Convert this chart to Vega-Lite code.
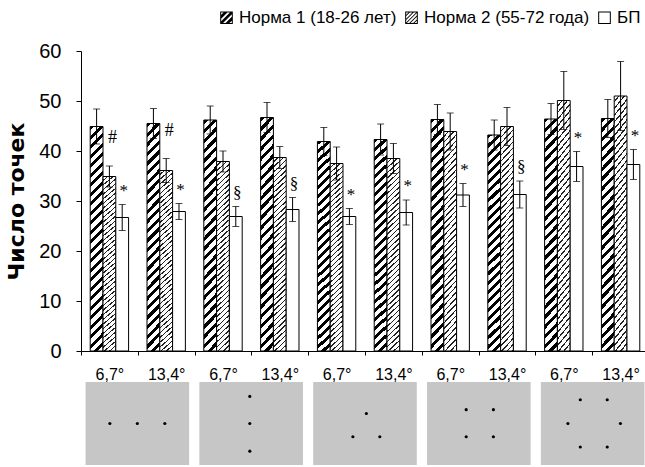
{
  "$schema": "https://vega.github.io/schema/vega-lite/v6.json",
  "background": "white",
  "padding": {"left": 5, "top": 9, "right": 0, "bottom": 0},
  "spacing": 0,
  "config": {
    "view": {"stroke": null},
    "font": "Liberation Sans",
    "axis": {"domainColor": "#000", "tickColor": "#000", "labelColor": "#000", "titleColor": "#000", "grid": false, "domainWidth": 1, "tickWidth": 1}
  },
  "vconcat": [
    {
      "width": 568,
      "height": 300,
      "data": {"values": [
        {"group": "p1|6,7°", "series": "Норма 1 (18-26 лет)", "mean": 44.9, "lo": 41.4, "hi": 48.4, "sig": ""},
        {"group": "p1|6,7°", "series": "Норма 2 (55-72 года)", "mean": 34.9, "lo": 32.8, "hi": 37.0, "sig": "#"},
        {"group": "p1|6,7°", "series": "БП", "mean": 26.7, "lo": 24.1, "hi": 29.3, "sig": "*"},
        {"group": "p1|13,4°", "series": "Норма 1 (18-26 лет)", "mean": 45.5, "lo": 42.5, "hi": 48.5, "sig": ""},
        {"group": "p1|13,4°", "series": "Норма 2 (55-72 года)", "mean": 36.1, "lo": 33.7, "hi": 38.5, "sig": "#"},
        {"group": "p1|13,4°", "series": "БП", "mean": 27.9, "lo": 26.3, "hi": 29.5, "sig": "*"},
        {"group": "p2|6,7°", "series": "Норма 1 (18-26 лет)", "mean": 46.2, "lo": 43.4, "hi": 49.0, "sig": ""},
        {"group": "p2|6,7°", "series": "Норма 2 (55-72 года)", "mean": 37.9, "lo": 35.8, "hi": 40.0, "sig": ""},
        {"group": "p2|6,7°", "series": "БП", "mean": 26.9, "lo": 24.9, "hi": 28.9, "sig": "§"},
        {"group": "p2|13,4°", "series": "Норма 1 (18-26 лет)", "mean": 46.7, "lo": 43.7, "hi": 49.7, "sig": ""},
        {"group": "p2|13,4°", "series": "Норма 2 (55-72 года)", "mean": 38.7, "lo": 36.5, "hi": 40.9, "sig": ""},
        {"group": "p2|13,4°", "series": "БП", "mean": 28.3, "lo": 25.9, "hi": 30.7, "sig": "§"},
        {"group": "p3|6,7°", "series": "Норма 1 (18-26 лет)", "mean": 41.9, "lo": 39.1, "hi": 44.7, "sig": ""},
        {"group": "p3|6,7°", "series": "Норма 2 (55-72 года)", "mean": 37.5, "lo": 34.2, "hi": 40.8, "sig": ""},
        {"group": "p3|6,7°", "series": "БП", "mean": 26.9, "lo": 25.3, "hi": 28.5, "sig": "*"},
        {"group": "p3|13,4°", "series": "Норма 1 (18-26 лет)", "mean": 42.3, "lo": 39.2, "hi": 45.4, "sig": ""},
        {"group": "p3|13,4°", "series": "Норма 2 (55-72 года)", "mean": 38.5, "lo": 35.5, "hi": 41.5, "sig": ""},
        {"group": "p3|13,4°", "series": "БП", "mean": 27.7, "lo": 25.2, "hi": 30.2, "sig": "*"},
        {"group": "p4|6,7°", "series": "Норма 1 (18-26 лет)", "mean": 46.3, "lo": 43.3, "hi": 49.3, "sig": ""},
        {"group": "p4|6,7°", "series": "Норма 2 (55-72 года)", "mean": 43.9, "lo": 40.2, "hi": 47.6, "sig": ""},
        {"group": "p4|6,7°", "series": "БП", "mean": 31.2, "lo": 28.9, "hi": 33.5, "sig": "*"},
        {"group": "p4|13,4°", "series": "Норма 1 (18-26 лет)", "mean": 43.2, "lo": 40.2, "hi": 46.2, "sig": ""},
        {"group": "p4|13,4°", "series": "Норма 2 (55-72 года)", "mean": 44.9, "lo": 41.1, "hi": 48.7, "sig": ""},
        {"group": "p4|13,4°", "series": "БП", "mean": 31.3, "lo": 28.6, "hi": 34.0, "sig": "§"},
        {"group": "p5|6,7°", "series": "Норма 1 (18-26 лет)", "mean": 46.4, "lo": 43.3, "hi": 49.5, "sig": ""},
        {"group": "p5|6,7°", "series": "Норма 2 (55-72 года)", "mean": 50.1, "lo": 44.3, "hi": 55.9, "sig": ""},
        {"group": "p5|6,7°", "series": "БП", "mean": 36.9, "lo": 33.9, "hi": 39.9, "sig": "*"},
        {"group": "p5|13,4°", "series": "Норма 1 (18-26 лет)", "mean": 46.5, "lo": 42.7, "hi": 50.3, "sig": ""},
        {"group": "p5|13,4°", "series": "Норма 2 (55-72 года)", "mean": 51.0, "lo": 44.1, "hi": 57.9, "sig": ""},
        {"group": "p5|13,4°", "series": "БП", "mean": 37.3, "lo": 34.3, "hi": 40.3, "sig": "*"}
      ]},
      "encoding": {
        "x": {"field": "group", "type": "nominal", "sort": null,
          "scale": {"paddingInner": 0, "paddingOuter": 0},
          "axis": {"title": null, "labelAngle": 0, "tickBand": "extent", "tickSize": 4, "labelFontSize": 16, "labelPadding": 11, "labelExpr": "split(datum.label, '|')[1]"}},
        "xOffset": {"field": "series", "type": "nominal", "sort": null, "scale": {"paddingInner": 0, "paddingOuter": 0.72}}
      },
      "layer": [
        {
          "mark": {"type": "bar", "stroke": "#000", "strokeWidth": 1},
          "encoding": {
            "y": {"field": "mean", "type": "quantitative", "scale": {"domain": [0, 60]},
              "axis": {"title": "Число точек", "values": [0, 10, 20, 30, 40, 50, 60], "tickSize": 5, "labelFontSize": 20, "labelPadding": 15, "titleFont": "DejaVu Sans", "titleFontSize": 22, "titleFontWeight": "bold", "titlePadding": 10}},
            "fill": {
              "condition": [
                {"test": "datum.series === 'Норма 1 (18-26 лет)'", "value":
                  {"gradient": "linear", "x1": 0, "y1": 0, "x2": 0.0608, "y2": 1.054, "stops": [
                    {"offset": 0, "color": "#000"}, {"offset": 0.018, "color": "#000"}, {"offset": 0.018, "color": "#fff"}, {"offset": 0.04, "color": "#fff"},
                    {"offset": 0.04, "color": "#000"}, {"offset": 0.058, "color": "#000"}, {"offset": 0.058, "color": "#fff"}, {"offset": 0.08, "color": "#fff"},
                    {"offset": 0.08, "color": "#000"}, {"offset": 0.098, "color": "#000"}, {"offset": 0.098, "color": "#fff"}, {"offset": 0.12, "color": "#fff"},
                    {"offset": 0.12, "color": "#000"}, {"offset": 0.138, "color": "#000"}, {"offset": 0.138, "color": "#fff"}, {"offset": 0.16, "color": "#fff"},
                    {"offset": 0.16, "color": "#000"}, {"offset": 0.178, "color": "#000"}, {"offset": 0.178, "color": "#fff"}, {"offset": 0.2, "color": "#fff"},
                    {"offset": 0.2, "color": "#000"}, {"offset": 0.218, "color": "#000"}, {"offset": 0.218, "color": "#fff"}, {"offset": 0.24, "color": "#fff"},
                    {"offset": 0.24, "color": "#000"}, {"offset": 0.258, "color": "#000"}, {"offset": 0.258, "color": "#fff"}, {"offset": 0.28, "color": "#fff"},
                    {"offset": 0.28, "color": "#000"}, {"offset": 0.298, "color": "#000"}, {"offset": 0.298, "color": "#fff"}, {"offset": 0.32, "color": "#fff"},
                    {"offset": 0.32, "color": "#000"}, {"offset": 0.338, "color": "#000"}, {"offset": 0.338, "color": "#fff"}, {"offset": 0.36, "color": "#fff"},
                    {"offset": 0.36, "color": "#000"}, {"offset": 0.378, "color": "#000"}, {"offset": 0.378, "color": "#fff"}, {"offset": 0.4, "color": "#fff"},
                    {"offset": 0.4, "color": "#000"}, {"offset": 0.418, "color": "#000"}, {"offset": 0.418, "color": "#fff"}, {"offset": 0.44, "color": "#fff"},
                    {"offset": 0.44, "color": "#000"}, {"offset": 0.458, "color": "#000"}, {"offset": 0.458, "color": "#fff"}, {"offset": 0.48, "color": "#fff"},
                    {"offset": 0.48, "color": "#000"}, {"offset": 0.498, "color": "#000"}, {"offset": 0.498, "color": "#fff"}, {"offset": 0.52, "color": "#fff"},
                    {"offset": 0.52, "color": "#000"}, {"offset": 0.538, "color": "#000"}, {"offset": 0.538, "color": "#fff"}, {"offset": 0.56, "color": "#fff"},
                    {"offset": 0.56, "color": "#000"}, {"offset": 0.578, "color": "#000"}, {"offset": 0.578, "color": "#fff"}, {"offset": 0.6, "color": "#fff"},
                    {"offset": 0.6, "color": "#000"}, {"offset": 0.618, "color": "#000"}, {"offset": 0.618, "color": "#fff"}, {"offset": 0.64, "color": "#fff"},
                    {"offset": 0.64, "color": "#000"}, {"offset": 0.658, "color": "#000"}, {"offset": 0.658, "color": "#fff"}, {"offset": 0.68, "color": "#fff"},
                    {"offset": 0.68, "color": "#000"}, {"offset": 0.698, "color": "#000"}, {"offset": 0.698, "color": "#fff"}, {"offset": 0.72, "color": "#fff"},
                    {"offset": 0.72, "color": "#000"}, {"offset": 0.738, "color": "#000"}, {"offset": 0.738, "color": "#fff"}, {"offset": 0.76, "color": "#fff"},
                    {"offset": 0.76, "color": "#000"}, {"offset": 0.778, "color": "#000"}, {"offset": 0.778, "color": "#fff"}, {"offset": 0.8, "color": "#fff"},
                    {"offset": 0.8, "color": "#000"}, {"offset": 0.818, "color": "#000"}, {"offset": 0.818, "color": "#fff"}, {"offset": 0.84, "color": "#fff"},
                    {"offset": 0.84, "color": "#000"}, {"offset": 0.858, "color": "#000"}, {"offset": 0.858, "color": "#fff"}, {"offset": 0.88, "color": "#fff"},
                    {"offset": 0.88, "color": "#000"}, {"offset": 0.898, "color": "#000"}, {"offset": 0.898, "color": "#fff"}, {"offset": 0.92, "color": "#fff"},
                    {"offset": 0.92, "color": "#000"}, {"offset": 0.938, "color": "#000"}, {"offset": 0.938, "color": "#fff"}, {"offset": 0.96, "color": "#fff"},
                    {"offset": 0.96, "color": "#000"}, {"offset": 0.978, "color": "#000"}, {"offset": 0.978, "color": "#fff"}, {"offset": 1, "color": "#fff"}
                  ]}},
                {"test": "datum.series === 'Норма 2 (55-72 года)'", "value":
                  {"gradient": "linear", "x1": 0, "y1": 0, "x2": 0.0661, "y2": 1.0584, "stops": [
                    {"offset": 0, "color": "#fff"}, {"offset": 0.018, "color": "#fff"}, {"offset": 0.018, "color": "#222"}, {"offset": 0.025, "color": "#222"},
                    {"offset": 0.025, "color": "#fff"}, {"offset": 0.043, "color": "#fff"}, {"offset": 0.043, "color": "#222"}, {"offset": 0.05, "color": "#222"},
                    {"offset": 0.05, "color": "#fff"}, {"offset": 0.068, "color": "#fff"}, {"offset": 0.068, "color": "#222"}, {"offset": 0.075, "color": "#222"},
                    {"offset": 0.075, "color": "#fff"}, {"offset": 0.093, "color": "#fff"}, {"offset": 0.093, "color": "#222"}, {"offset": 0.1, "color": "#222"},
                    {"offset": 0.1, "color": "#fff"}, {"offset": 0.118, "color": "#fff"}, {"offset": 0.118, "color": "#222"}, {"offset": 0.125, "color": "#222"},
                    {"offset": 0.125, "color": "#fff"}, {"offset": 0.143, "color": "#fff"}, {"offset": 0.143, "color": "#222"}, {"offset": 0.15, "color": "#222"},
                    {"offset": 0.15, "color": "#fff"}, {"offset": 0.168, "color": "#fff"}, {"offset": 0.168, "color": "#222"}, {"offset": 0.175, "color": "#222"},
                    {"offset": 0.175, "color": "#fff"}, {"offset": 0.193, "color": "#fff"}, {"offset": 0.193, "color": "#222"}, {"offset": 0.2, "color": "#222"},
                    {"offset": 0.2, "color": "#fff"}, {"offset": 0.218, "color": "#fff"}, {"offset": 0.218, "color": "#222"}, {"offset": 0.225, "color": "#222"},
                    {"offset": 0.225, "color": "#fff"}, {"offset": 0.243, "color": "#fff"}, {"offset": 0.243, "color": "#222"}, {"offset": 0.25, "color": "#222"},
                    {"offset": 0.25, "color": "#fff"}, {"offset": 0.268, "color": "#fff"}, {"offset": 0.268, "color": "#222"}, {"offset": 0.275, "color": "#222"},
                    {"offset": 0.275, "color": "#fff"}, {"offset": 0.293, "color": "#fff"}, {"offset": 0.293, "color": "#222"}, {"offset": 0.3, "color": "#222"},
                    {"offset": 0.3, "color": "#fff"}, {"offset": 0.318, "color": "#fff"}, {"offset": 0.318, "color": "#222"}, {"offset": 0.325, "color": "#222"},
                    {"offset": 0.325, "color": "#fff"}, {"offset": 0.343, "color": "#fff"}, {"offset": 0.343, "color": "#222"}, {"offset": 0.35, "color": "#222"},
                    {"offset": 0.35, "color": "#fff"}, {"offset": 0.368, "color": "#fff"}, {"offset": 0.368, "color": "#222"}, {"offset": 0.375, "color": "#222"},
                    {"offset": 0.375, "color": "#fff"}, {"offset": 0.393, "color": "#fff"}, {"offset": 0.393, "color": "#222"}, {"offset": 0.4, "color": "#222"},
                    {"offset": 0.4, "color": "#fff"}, {"offset": 0.418, "color": "#fff"}, {"offset": 0.418, "color": "#222"}, {"offset": 0.425, "color": "#222"},
                    {"offset": 0.425, "color": "#fff"}, {"offset": 0.443, "color": "#fff"}, {"offset": 0.443, "color": "#222"}, {"offset": 0.45, "color": "#222"},
                    {"offset": 0.45, "color": "#fff"}, {"offset": 0.468, "color": "#fff"}, {"offset": 0.468, "color": "#222"}, {"offset": 0.475, "color": "#222"},
                    {"offset": 0.475, "color": "#fff"}, {"offset": 0.493, "color": "#fff"}, {"offset": 0.493, "color": "#222"}, {"offset": 0.5, "color": "#222"},
                    {"offset": 0.5, "color": "#fff"}, {"offset": 0.518, "color": "#fff"}, {"offset": 0.518, "color": "#222"}, {"offset": 0.525, "color": "#222"},
                    {"offset": 0.525, "color": "#fff"}, {"offset": 0.543, "color": "#fff"}, {"offset": 0.543, "color": "#222"}, {"offset": 0.55, "color": "#222"},
                    {"offset": 0.55, "color": "#fff"}, {"offset": 0.568, "color": "#fff"}, {"offset": 0.568, "color": "#222"}, {"offset": 0.575, "color": "#222"},
                    {"offset": 0.575, "color": "#fff"}, {"offset": 0.593, "color": "#fff"}, {"offset": 0.593, "color": "#222"}, {"offset": 0.6, "color": "#222"},
                    {"offset": 0.6, "color": "#fff"}, {"offset": 0.618, "color": "#fff"}, {"offset": 0.618, "color": "#222"}, {"offset": 0.625, "color": "#222"},
                    {"offset": 0.625, "color": "#fff"}, {"offset": 0.643, "color": "#fff"}, {"offset": 0.643, "color": "#222"}, {"offset": 0.65, "color": "#222"},
                    {"offset": 0.65, "color": "#fff"}, {"offset": 0.668, "color": "#fff"}, {"offset": 0.668, "color": "#222"}, {"offset": 0.675, "color": "#222"},
                    {"offset": 0.675, "color": "#fff"}, {"offset": 0.693, "color": "#fff"}, {"offset": 0.693, "color": "#222"}, {"offset": 0.7, "color": "#222"},
                    {"offset": 0.7, "color": "#fff"}, {"offset": 0.718, "color": "#fff"}, {"offset": 0.718, "color": "#222"}, {"offset": 0.725, "color": "#222"},
                    {"offset": 0.725, "color": "#fff"}, {"offset": 0.743, "color": "#fff"}, {"offset": 0.743, "color": "#222"}, {"offset": 0.75, "color": "#222"},
                    {"offset": 0.75, "color": "#fff"}, {"offset": 0.768, "color": "#fff"}, {"offset": 0.768, "color": "#222"}, {"offset": 0.775, "color": "#222"},
                    {"offset": 0.775, "color": "#fff"}, {"offset": 0.793, "color": "#fff"}, {"offset": 0.793, "color": "#222"}, {"offset": 0.8, "color": "#222"},
                    {"offset": 0.8, "color": "#fff"}, {"offset": 0.818, "color": "#fff"}, {"offset": 0.818, "color": "#222"}, {"offset": 0.825, "color": "#222"},
                    {"offset": 0.825, "color": "#fff"}, {"offset": 0.843, "color": "#fff"}, {"offset": 0.843, "color": "#222"}, {"offset": 0.85, "color": "#222"},
                    {"offset": 0.85, "color": "#fff"}, {"offset": 0.868, "color": "#fff"}, {"offset": 0.868, "color": "#222"}, {"offset": 0.875, "color": "#222"},
                    {"offset": 0.875, "color": "#fff"}, {"offset": 0.893, "color": "#fff"}, {"offset": 0.893, "color": "#222"}, {"offset": 0.9, "color": "#222"},
                    {"offset": 0.9, "color": "#fff"}, {"offset": 0.918, "color": "#fff"}, {"offset": 0.918, "color": "#222"}, {"offset": 0.925, "color": "#222"},
                    {"offset": 0.925, "color": "#fff"}, {"offset": 0.943, "color": "#fff"}, {"offset": 0.943, "color": "#222"}, {"offset": 0.95, "color": "#222"},
                    {"offset": 0.95, "color": "#fff"}, {"offset": 0.968, "color": "#fff"}, {"offset": 0.968, "color": "#222"}, {"offset": 0.975, "color": "#222"},
                    {"offset": 0.975, "color": "#fff"}, {"offset": 0.993, "color": "#fff"}, {"offset": 0.993, "color": "#222"}, {"offset": 1, "color": "#222"}
                  ]}}
              ],
              "value": "#ffffff"
            }
          }
        },
        {
          "transform": [{"filter": "false"}],
          "mark": {"type": "point", "filled": true, "color": "#000", "opacity": 1},
          "encoding": {
            "y": {"field": "mean", "type": "quantitative", "axis": {"title": "Число точек"}},
            "shape": {"field": "series", "type": "nominal", "sort": null,
              "scale": {"domain": ["Норма 1 (18-26 лет)", "Норма 2 (55-72 года)", "БП"],
                "range": [
                  "M-1,-1H1V1H-1Z M-0.84,-0.84V0.84H0.84V-0.84Z M-0.46,-0.84L0.14,-0.84L-0.84,0.14L-0.84,-0.46Z M0.54,-0.84L0.84,-0.84L0.84,-0.54L-0.54,0.84L-0.84,0.84L-0.84,0.54Z M0.84,-0.14L0.84,0.46L0.46,0.84L-0.14,0.84Z",
                  "M-1,-1H1V1H-1Z M-0.84,-0.84V0.84H0.84V-0.84Z M-0.46,-0.84L-0.26,-0.84L-0.84,-0.26L-0.84,-0.46Z M0.14,-0.84L0.34,-0.84L-0.84,0.34L-0.84,0.14Z M0.74,-0.84L0.84,-0.84L0.84,-0.74L-0.74,0.84L-0.84,0.84L-0.84,0.74Z M0.84,-0.34L0.84,-0.14L-0.14,0.84L-0.34,0.84Z M0.84,0.26L0.84,0.46L0.46,0.84L0.26,0.84Z",
                  "M-1,-1H1V1H-1Z M-0.84,-0.84V0.84H0.84V-0.84Z"
                ]},
              "legend": {
                "title": null, "orient": "none", "legendX": 137, "legendY": -42, "direction": "horizontal", "columns": 3,
                "symbolSize": 160, "symbolStrokeWidth": 0, "symbolFillColor": "#000", "symbolOpacity": 1,
                "labelFontSize": 17, "labelOffset": 4, "columnPadding": 6, "labelColor": "#000", "labelLimit": 400
              }}
          }
        },
        {
          "mark": {"type": "rule", "color": "#000", "strokeWidth": 1},
          "encoding": {
            "y": {"field": "lo", "type": "quantitative", "axis": {"title": "Число точек"}},
            "y2": {"field": "hi"}
          }
        },
        {
          "mark": {"type": "tick", "color": "#000", "size": 7, "thickness": 1},
          "encoding": {"y": {"field": "hi", "type": "quantitative", "axis": {"title": "Число точек"}}}
        },
        {
          "mark": {"type": "tick", "color": "#000", "size": 7, "thickness": 1},
          "encoding": {"y": {"field": "lo", "type": "quantitative", "axis": {"title": "Число точек"}}}
        },
        {
          "transform": [{"filter": "datum.sig === '#'"}],
          "mark": {"type": "text", "font": "Liberation Serif", "fontSize": 18, "baseline": "middle", "dx": 3, "dy": -28, "color": "#000"},
          "encoding": {"y": {"field": "hi", "type": "quantitative", "axis": {"title": "Число точек"}}, "text": {"field": "sig"}}
        },
        {
          "transform": [{"filter": "datum.sig === '*' || datum.sig === '§'"}],
          "mark": {"type": "text", "font": "Liberation Serif", "fontSize": 17, "baseline": "middle", "dx": 1.5, "dy": -14, "color": "#000"},
          "encoding": {"y": {"field": "hi", "type": "quantitative", "axis": {"title": "Число точек"}}, "text": {"field": "sig"}}
        }
      ]
    },
    {
      "width": 568,
      "height": 83,
      "resolve": {"scale": {"xOffset": "independent"}},
      "layer": [
        {
          "data": {"values": [{"pattern": "p1"}, {"pattern": "p2"}, {"pattern": "p3"}, {"pattern": "p4"}, {"pattern": "p5"}]},
          "mark": {"type": "bar", "color": "#c6c6c6"},
          "encoding": {
            "x": {"field": "pattern", "type": "nominal", "sort": null, "scale": {"type": "band", "paddingInner": 0.09, "paddingOuter": 0.04}, "axis": null},
            "y": {"datum": 1.5, "type": "quantitative", "scale": {"domain": [-1.5, 1.5], "nice": false, "zero": false}, "axis": null},
            "y2": {"datum": -1.5}
          }
        },
        {
          "data": {"values": [
            {"pattern": "p1", "dx": -1, "dy": 0}, {"pattern": "p1", "dx": 0, "dy": 0}, {"pattern": "p1", "dx": 1, "dy": 0},
            {"pattern": "p2", "dx": -0.05, "dy": 0.98}, {"pattern": "p2", "dx": -0.05, "dy": 0}, {"pattern": "p2", "dx": -0.05, "dy": -1},
            {"pattern": "p3", "dx": -0.44, "dy": -0.48}, {"pattern": "p3", "dx": 0.05, "dy": 0.36}, {"pattern": "p3", "dx": 0.54, "dy": -0.48},
            {"pattern": "p4", "dx": -0.46, "dy": 0.5}, {"pattern": "p4", "dx": 0.53, "dy": 0.5}, {"pattern": "p4", "dx": -0.46, "dy": -0.48}, {"pattern": "p4", "dx": 0.53, "dy": -0.48},
            {"pattern": "p5", "dx": -0.45, "dy": 0.86}, {"pattern": "p5", "dx": 0.53, "dy": 0.86}, {"pattern": "p5", "dx": -0.9, "dy": 0}, {"pattern": "p5", "dx": 1.01, "dy": 0}, {"pattern": "p5", "dx": -0.45, "dy": -0.85}, {"pattern": "p5", "dx": 0.53, "dy": -0.85}
          ]},
          "mark": {"type": "point", "filled": true, "color": "#000", "size": 10, "opacity": 1},
          "encoding": {
            "x": {"field": "pattern", "type": "nominal", "sort": null, "scale": {"type": "band", "paddingInner": 0.09, "paddingOuter": 0.04}, "axis": null},
            "xOffset": {"field": "dx", "type": "quantitative", "scale": {"domain": [-1.884, 1.884]}},
            "y": {"field": "dy", "type": "quantitative", "scale": {"domain": [-1.5, 1.5], "nice": false, "zero": false}, "axis": null}
          }
        }
      ]
    }
  ]
}
